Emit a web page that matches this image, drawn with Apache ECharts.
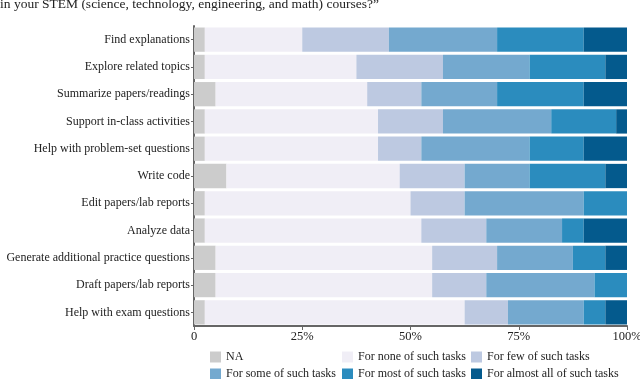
<!DOCTYPE html>
<html>
<head>
<meta charset="utf-8">
<script src="https://cdn.jsdelivr.net/npm/echarts@6/dist/echarts.min.js"></script>
<style>
  html, body { margin: 0; padding: 0; background: #fff; }
  #chart { width: 640px; height: 379px; }
</style>
</head>
<body>
<div id="chart"></div>
<script>
// tasks, top to bottom
var tasks = [
    'Find explanations', 'Explore related topics', 'Summarize papers/readings',
    'Support in-class activities', 'Help with problem-set questions', 'Write code',
    'Edit papers/lab reports', 'Analyze data', 'Generate additional practice questions',
    'Draft papers/lab reports', 'Help with exam questions'
];

// share of respondents (%) per answer
var naVals     = [2.5, 2.5, 5,    2.5, 2.5, 7.5, 2.5,  2.5,  5,    5,    2.5];
var noneVals   = [22.5, 35, 35,   40,  40,  40,  47.5, 50,   50,   50,   60];
var fewVals    = [20,  20,  12.5, 15,  10,  15,  12.5, 15,   15,   12.5, 10];
var someVals   = [25,  20,  17.5, 25,  25,  15,  27.5, 17.5, 17.5, 25,   17.5];
var mostVals   = [20,  17.5, 20,  15,  12.5, 17.5, 10, 5,    7.5,  7.5,  5];
var almostVals = [10,  5,   10,   2.5, 10,  5,   0,    10,   5,    0,    5];

var xTicks = ['0', '25%', '50%', '75%', '100%'];

var seriesNames = ['NA', 'For none of such tasks', 'For few of such tasks',
    'For some of such tasks', 'For most of such tasks', 'For almost all of such tasks'];
var seriesData = [naVals, noneVals, fewVals, someVals, mostVals, almostVals];
var colors = ['#cccccc', '#f0eef6', '#bdc9e1', '#74a9cf', '#2b8cbe', '#045a8d'];

var font = 'Liberation Serif';
var txt = '#222';

var series = seriesNames.map(function(name, i) {
    return {
        name: name,
        type: 'bar',
        stack: 'all',
        barCategoryGap: '11%',
        itemStyle: {color: colors[i]},
        data: seriesData[i]
    };
});

// one legend per column so the entries line up like the original
function legendCol(left, names) {
    return {
        orient: 'vertical',
        left: left,
        top: 350,
        height: 80,
        padding: 0,
        itemWidth: 11,
        itemHeight: 11,
        itemGap: 3,
        icon: 'rect',
        selectedMode: false,
        textStyle: {fontFamily: font, fontSize: 12, lineHeight: 14, color: txt},
        data: names
    };
}

var chart = echarts.init(document.getElementById('chart'));
chart.setOption({
    animation: false,
    color: colors,
    title: {
        text: 'in your STEM (science, technology, engineering, and math) courses?\u201d',
        left: -5,
        top: -8,
        textStyle: {fontFamily: font, fontSize: 13.5, fontWeight: 'normal', color: txt}
    },
    grid: {left: 194, right: 13, top: 26, bottom: 53, containLabel: false, outerBoundsMode: 'none'},
    legend: [
        legendCol(210, ['NA', 'For some of such tasks']),
        legendCol(342, ['For none of such tasks', 'For most of such tasks']),
        legendCol(471, ['For few of such tasks', 'For almost all of such tasks'])
    ],
    xAxis: {
        type: 'value',
        min: 0,
        max: 100,
        interval: 25,
        splitLine: {show: false},
        axisLine: {show: true, lineStyle: {color: '#666', width: 2}},
        axisTick: {show: true, length: 4, lineStyle: {color: '#666'}},
        axisLabel: {
            fontFamily: font, fontSize: 12.5, color: txt, margin: 4,
            formatter: function(v) { return xTicks[v / 25]; }
        }
    },
    yAxis: {
        type: 'category',
        inverse: true,
        data: tasks,
        axisLine: {show: true, lineStyle: {color: '#666', width: 2}},
        axisTick: {show: true, length: 3, alignWithLabel: true, lineStyle: {color: '#666'}},
        axisLabel: {fontFamily: font, fontSize: 12, color: txt, margin: 4}
    },
    series: series
});
</script>
</body>
</html>
